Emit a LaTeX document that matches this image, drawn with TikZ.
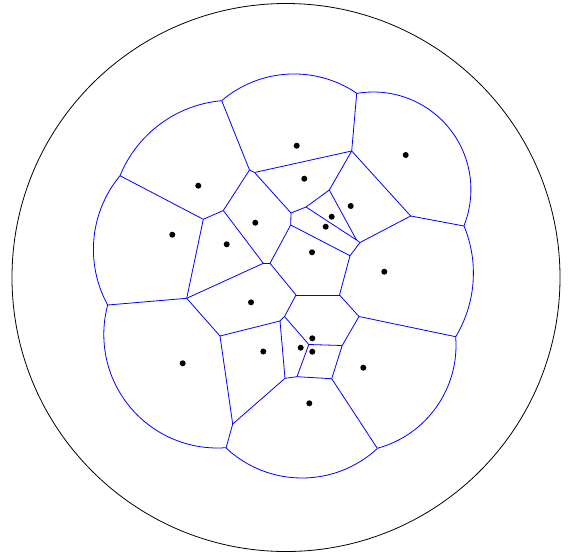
\documentclass[tikz,border=0pt]{standalone}
\usepackage{tikz}

\begin{document}
\begin{tikzpicture}[x=1pt, y=-1pt,
    edge/.style={blue, line width=0.8pt},
    rim/.style={blue, line width=0.8pt},
    site/.style={black}]
  \useasboundingbox (0,0) rectangle (572,557);

  % outer disc
  \coordinate (O) at (286,277.5);
  \draw[line width=0.8pt] (O) circle (274);

  % junctions on the rim
  \foreach \n/\x/\y in {J1/221.7/100.7, J2/356.7/93.3, J3/464/226, J4/455.7/336.7,
                        J5/377.3/448.3, J6/226/448.3, J7/107.7/305, J8/120/175.7}
    \coordinate (\n) at (\x,\y);

  % inner vertices
  \foreach \n/\x/\y in {v1/249.5/170, v2/254.5/172.5, v3/351.7/151, v4/410.7/216,
                        v5/329.3/190, v6/306/207, v7/291/213, v8/290.7/225,
                        v9/356.5/240, v10/360/242.5, v11/350/255.7, v12/223.3/210.5,
                        v13/203.3/219.3, v14/263.3/263.3, v15/270/263.3, v16/186.7/298.3,
                        v17/220/336, v18/232.7/424, v19/296/295, v20/339.5/295,
                        v21/359/316.5, v22/284.5/316.5, v23/280/321, v24/308.8/344.5,
                        v25/342.2/345.5, v26/285/378.3, v27/297/376.7, v28/331.7/378.7}
    \coordinate (\n) at (\x,\y);

  % rim arcs: center / start / end / radius
  \foreach \cx/\cy/\a/\b/\r in {232.4/221.6/-157.8/-95.06/121.4,
                                294.05/185.35/-130.52/-55.76/111.4,
                                373.3/189.6/-99.78/21.87/97.6,
                                350.1/273.1/-22.47/31.06/123.3,
                                349.5/345.5/-4.74/74.87/106.5,
                                302/367/47.2/133.07/111,
                                217.3/334.5/85.63/195.06/113.5,
                                208.7/249.4/151.16/219.72/115.3}
    \draw[rim] (\cx,\cy) ++(\a:\r) arc[start angle=\a, end angle=\b, radius=\r];

  % cell edges
  \foreach \a/\b in {J1/v1, J8/v13, J2/v3, J3/v4, J4/v21, J5/v28, J6/v18, J7/v16,
                     v1/v2, v1/v12, v2/v3, v2/v7, v3/v5, v3/v4, v4/v10,
                     v5/v6, v5/v9, v6/v7, v6/v9, v7/v8, v8/v15, v8/v11,
                     v9/v10, v10/v11, v11/v20, v12/v13, v12/v14, v13/v16,
                     v14/v15, v14/v16, v15/v19, v16/v17, v17/v23, v17/v18,
                     v18/v26, v19/v20, v19/v22, v20/v21, v21/v25, v22/v23,
                     v22/v24, v23/v26, v24/v25, v24/v27, v25/v28, v26/v27, v27/v28}
    \draw[edge] (\a) -- (\b);

  % sites
  \foreach \n/\x/\y in {s1/296.7/145.7, s2/405.7/155, s3/198.3/185.7, s4/304.3/178.7,
                        s5/350.7/206, s6/331.7/216.7, s7/325.7/226.7, s8/172.3/234.7,
                        s9/226.7/244.3, s10/255.3/222.7, s11/312/252.3, s12/384.3/271.7,
                        s13/251/302.3, s14/312.3/338.3, s15/300.7/347.7, s16/312.3/351.7,
                        s17/263.3/351.5, s18/182.7/363.3, s19/363.3/367.7, s20/309.3/403.3}
  {
    \coordinate (\n) at (\x,\y);
    \fill[site] (\n) circle (3);
  }
\end{tikzpicture}
\end{document}
